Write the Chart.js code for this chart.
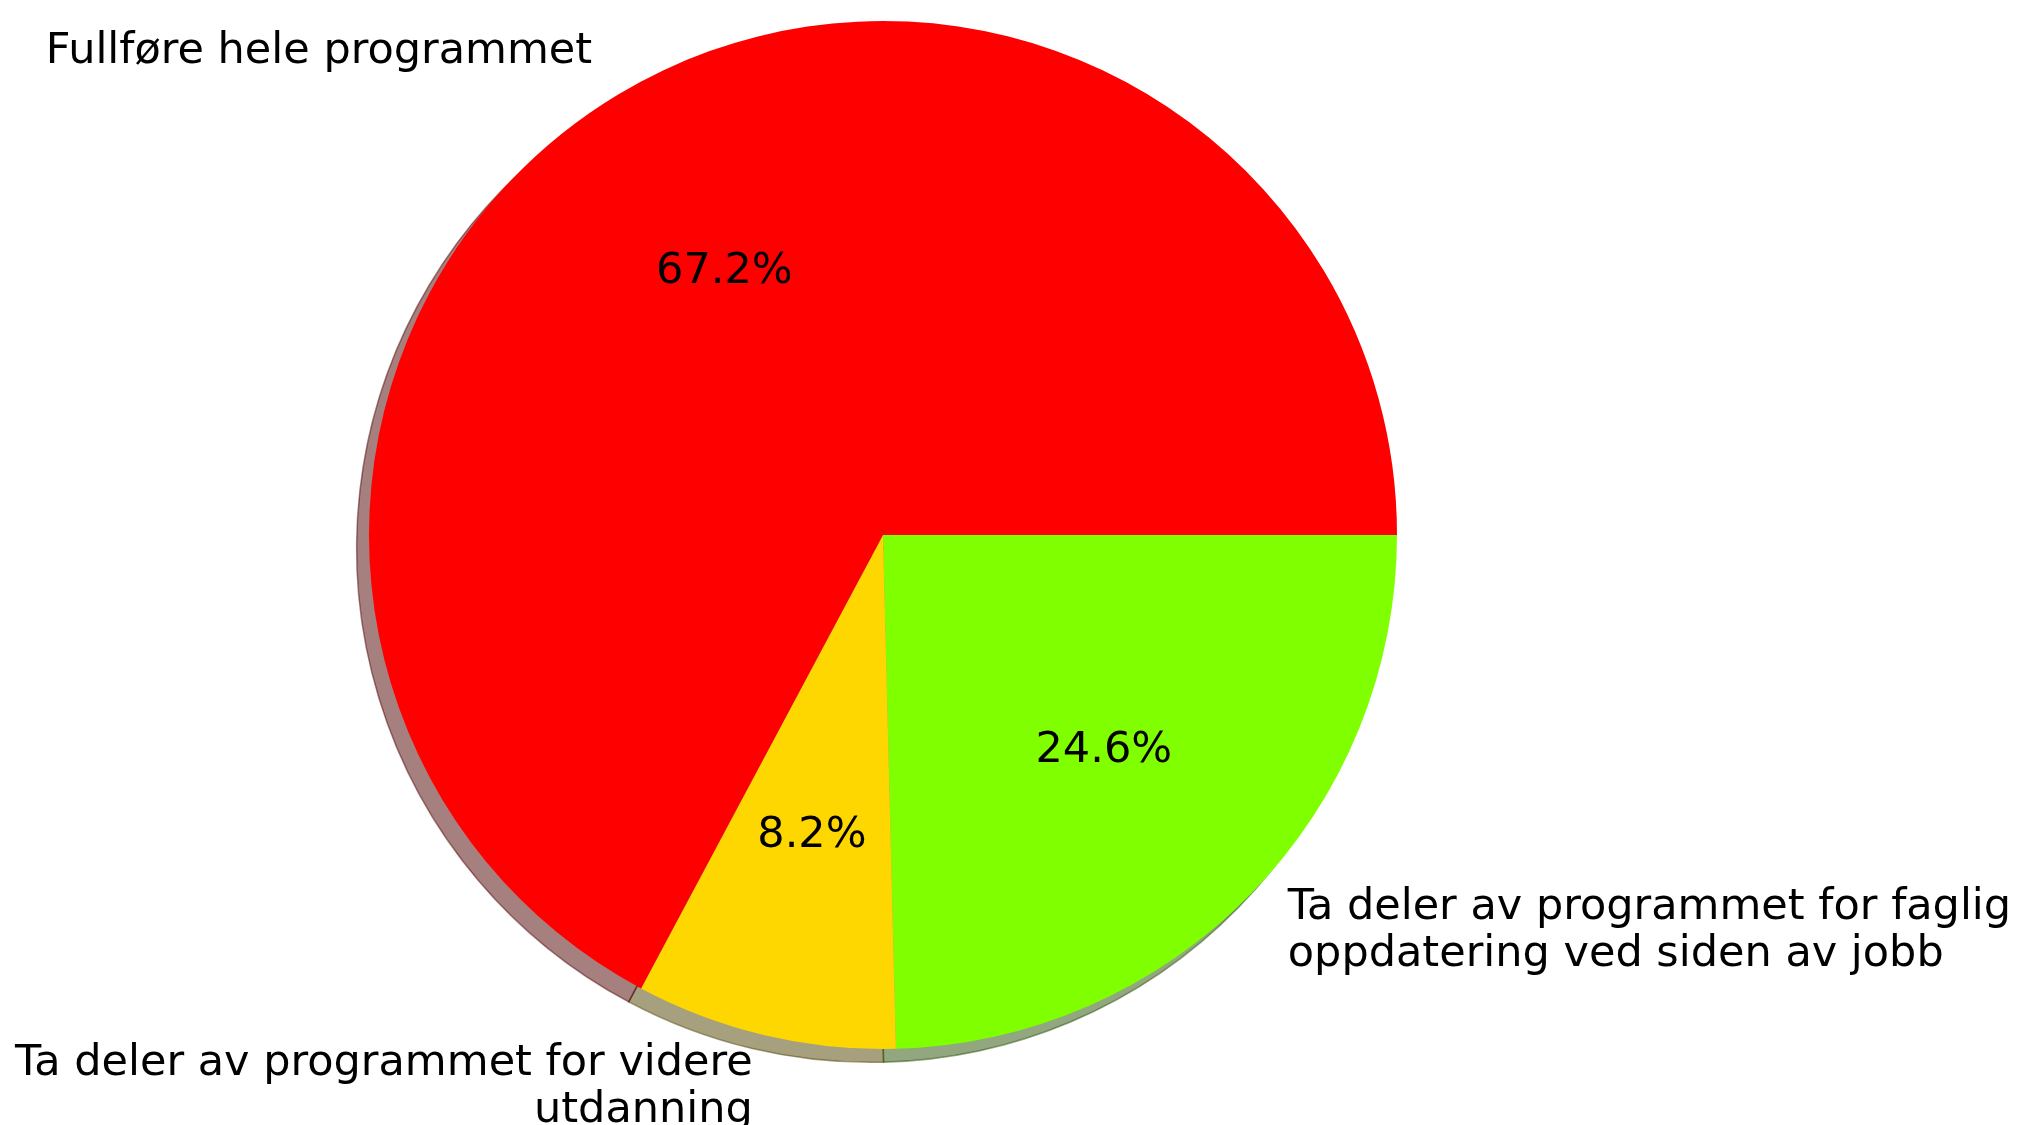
<!DOCTYPE html>
<html>
<head>
<meta charset="utf-8">
<script src="https://cdn.jsdelivr.net/npm/chart.js@4"></script>
<style>
  html, body { margin: 0; padding: 0; background: #ffffff; }
  #wrap { width: 2020px; height: 1125px; position: relative; }
</style>
</head>
<body>
<div id="wrap"><canvas id="c"></canvas></div>
<script>
// Data (matplotlib order: counter-clockwise from 3 o'clock)
const categories = [
  "Fullføre hele programmet",
  "Ta deler av programmet for videre\nutdanning",
  "Ta deler av programmet for faglig\noppdatering ved siden av jobb"
];
const values = [67.2, 8.2, 24.6];
const colors = ["#ff0000", "#ffd700", "#7fff00"];

// Chart.js draws clockwise, so reverse the order to reproduce the CCW layout
const cjLabels = categories.slice().reverse();
const cjValues = values.slice().reverse();
const cjColors = colors.slice().reverse();

const FONT = '43px "DejaVu Sans"';

function hexToRgb(h) {
  const n = parseInt(h.slice(1), 16);
  return [(n >> 16) & 255, (n >> 8) & 255, n & 255];
}

const shadowPlugin = {
  id: 'shadow',
  beforeDatasetsDraw(chart) {
    const ctx = chart.ctx;
    const meta = chart.getDatasetMeta(0);
    const r0 = meta.data[0] ? meta.data[0].outerRadius : 0;
    const ox = -0.024 * r0, oy = 0.026 * r0;
    ctx.save();
    meta.data.forEach((arc, i) => {
      const c = hexToRgb(cjColors[i]);
      const col = `rgba(${c[0]*0.3},${c[1]*0.3},${c[2]*0.3},0.5)`;
      ctx.beginPath();
      ctx.moveTo(arc.x + ox, arc.y + oy);
      ctx.arc(arc.x + ox, arc.y + oy, arc.outerRadius, arc.startAngle, arc.endAngle);
      ctx.closePath();
      ctx.fillStyle = col;
      ctx.fill();
      ctx.strokeStyle = col;
      ctx.lineWidth = 1.5;
      ctx.stroke();
    });
    ctx.restore();
  }
};

const labelPlugin = {
  id: 'pieLabels',
  afterDatasetsDraw(chart) {
    const ctx = chart.ctx;
    const meta = chart.getDatasetMeta(0);
    const data = chart.data.datasets[0].data;
    const total = data.reduce((a, b) => a + b, 0);
    ctx.save();
    ctx.font = FONT;
    ctx.fillStyle = '#000000';
    ctx.textBaseline = 'middle';
    const lineH = 47;
    meta.data.forEach((arc, i) => {
      const mid = (arc.startAngle + arc.endAngle) / 2;
      const cs = Math.cos(mid), sn = Math.sin(mid);
      const r = arc.outerRadius;
      // category label at 1.1 r
      const lx = arc.x + 1.1 * r * cs;
      const ly = arc.y + 1.1 * r * sn + 2;
      ctx.textAlign = cs < 0 ? 'right' : 'left';
      const lines = chart.data.labels[i].split('\n');
      const y0 = ly - (lines.length - 1) * lineH / 2;
      lines.forEach((t, k) => ctx.fillText(t, lx, y0 + k * lineH));
      // percentage at 0.6 r
      ctx.textAlign = 'center';
      const px = arc.x + 0.6 * r * cs;
      const py = arc.y + 0.6 * r * sn + 1;
      ctx.fillText((data[i] / total * 100).toFixed(1) + '%', px, py);
    });
    ctx.restore();
  }
};

new Chart(document.getElementById('c'), {
  type: 'pie',
  data: {
    labels: cjLabels,
    datasets: [{
      data: cjValues,
      backgroundColor: cjColors,
      borderWidth: 0,
      hoverOffset: 0
    }]
  },
  options: {
    responsive: true,
    maintainAspectRatio: false,
    animation: false,
    rotation: 90,
    layout: { padding: { top: 21, bottom: 76, left: 369, right: 623 } },
    plugins: {
      legend: { display: false },
      tooltip: { enabled: false }
    },
    events: []
  },
  plugins: [shadowPlugin, labelPlugin]
});
</script>
</body>
</html>
